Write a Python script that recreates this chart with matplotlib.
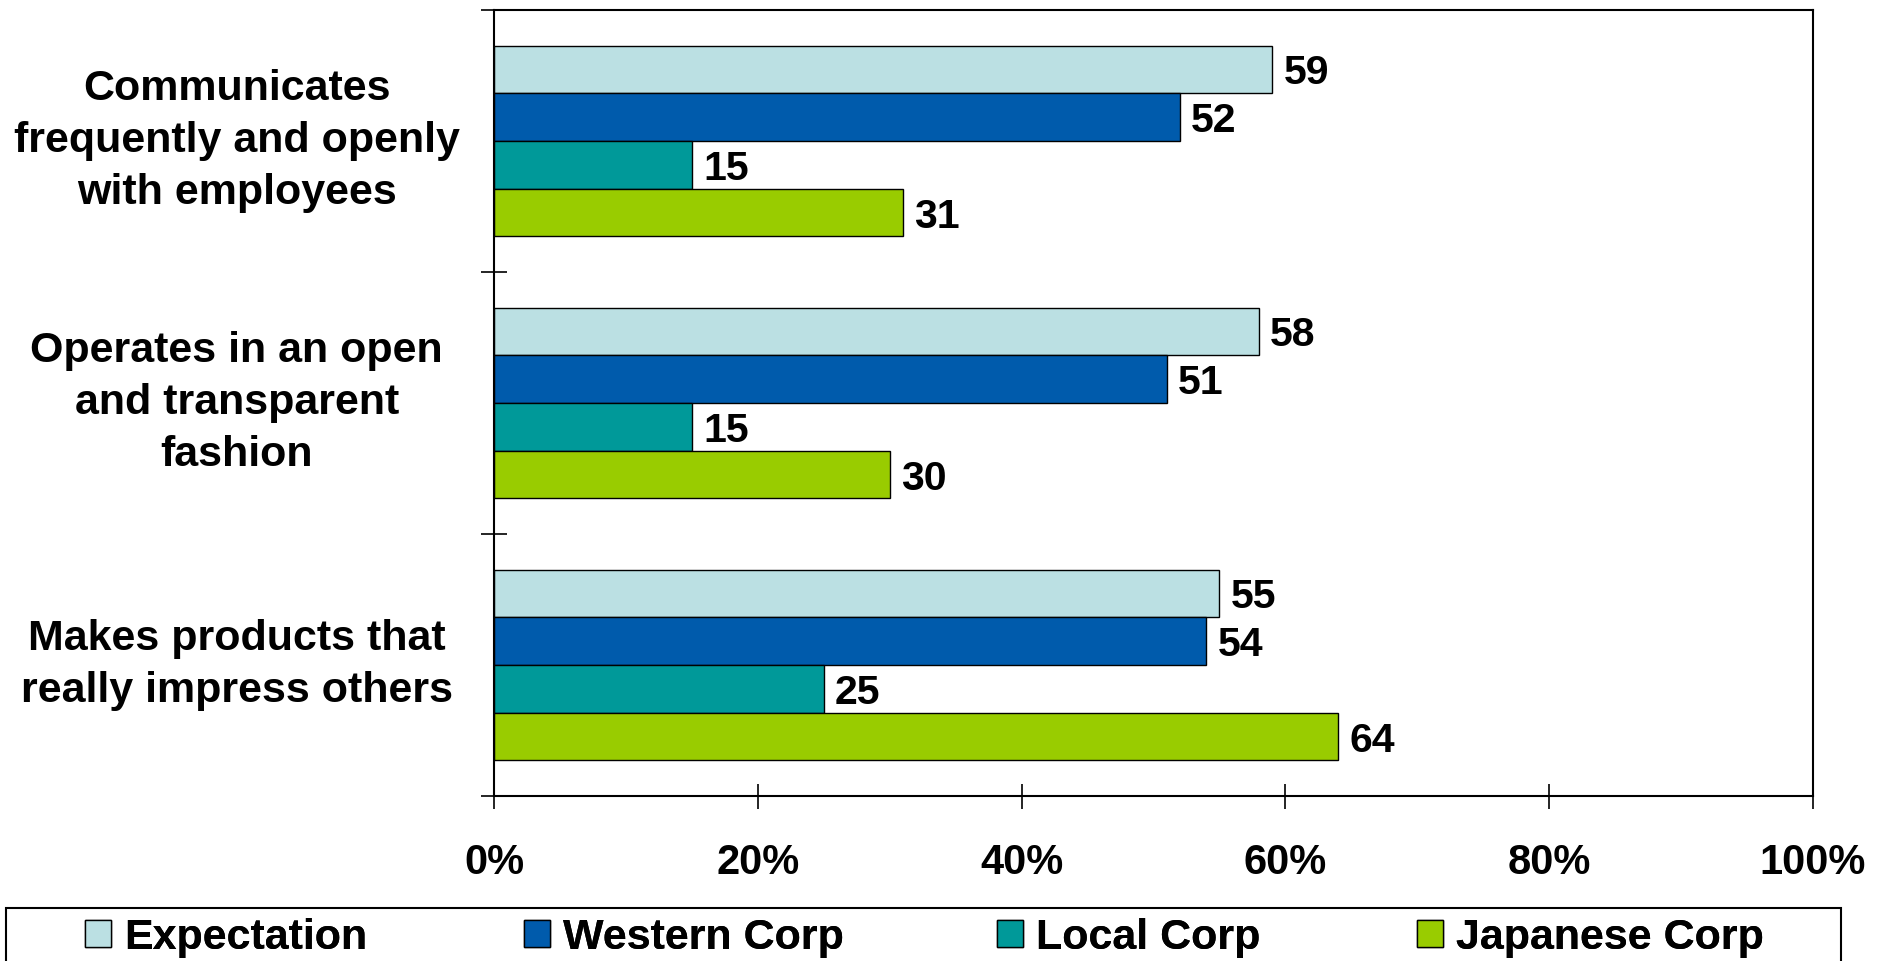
import numpy as np
import matplotlib
matplotlib.use('Agg')
import matplotlib.pyplot as plt
from matplotlib.patches import Rectangle

plt.rcParams['font.family'] = ['Liberation Sans', 'DejaVu Sans']
plt.rcParams['font.weight'] = 'bold'

# ========== data ==========
categories = ['Communicates\nfrequently and openly\nwith employees',
              'Operates in an open\nand transparent\nfashion',
              'Makes products that\nreally impress others']
series = ['Expectation', 'Western Corp', 'Local Corp', 'Japanese Corp']
expectation = [59, 58, 55]
western = [52, 51, 54]
local = [15, 15, 25]
japanese = [31, 30, 64]
colors = ['#BBE0E3', '#005BAC', '#009999', '#99CC00']
xticks = [0, 20, 40, 60, 80, 100]

values = [expectation, western, local, japanese]

fig = plt.figure(figsize=(18.9, 9.61), dpi=100)
ax = fig.add_axes([494 / 1890, 1 - 796 / 961, (1813 - 494) / 1890, (796 - 10) / 961])

y = np.arange(len(categories))
bar_h = 0.182
offsets = (np.arange(len(series)) - 1.5) * bar_h
handles = []
for vals, name, col, off in zip(values, series, colors, offsets):
    bars = ax.barh(y + off, vals, height=bar_h, color=col, edgecolor='black',
                   linewidth=1.0, label=name)
    handles.append(bars)
    txts = ax.bar_label(bars, labels=[str(v) for v in vals], padding=8,
                        fontsize=29.5, fontweight='bold')
    for t in txts:
        t.set_va('center_baseline')

ax.set_xlim(0, 100)
ax.set_ylim(len(categories) - 0.5, -0.5)

ax.set_xticks(xticks)
ax.set_xticklabels([f'{t}%' for t in xticks], fontsize=30, fontweight='bold')
ax.tick_params(axis='x', direction='inout', length=18, width=1.2, pad=25)

ax.set_yticks(np.arange(len(categories) + 1) - 0.5)
ax.set_yticklabels([])
ax.tick_params(axis='y', direction='inout', length=19, width=1.2)

for yi, cat in zip(y, categories):
    ax.text(-0.195, yi, cat, transform=ax.get_yaxis_transform(), ha='center',
            va='center', multialignment='center', fontsize=31,
            fontweight='bold', linespacing=1.4)

for sp in ax.spines.values():
    sp.set_linewidth(1.5)
    sp.set_color('black')

# legend frame runs off the bottom of the picture
fig.patches.append(Rectangle((6 / 1890, -0.05), (1841 - 6) / 1890, 0.05 + 1 - 908 / 961,
                             transform=fig.transFigure, fill=False,
                             edgecolor='black', linewidth=1.5))
leg_x = [85, 524, 997, 1417]
for h, name, lx in zip(handles, series, leg_x):
    leg = fig.legend([h], [name], loc='center left',
                     bbox_to_anchor=(lx / 1890, 1 - 938 / 961),
                     frameon=False, handlelength=0.6, handleheight=0.6,
                     handletextpad=0.3, borderaxespad=0, borderpad=0,
                     prop={'weight': 'bold', 'size': 31})
    fig.add_artist(leg)

fig.savefig('out.png', dpi=100)
